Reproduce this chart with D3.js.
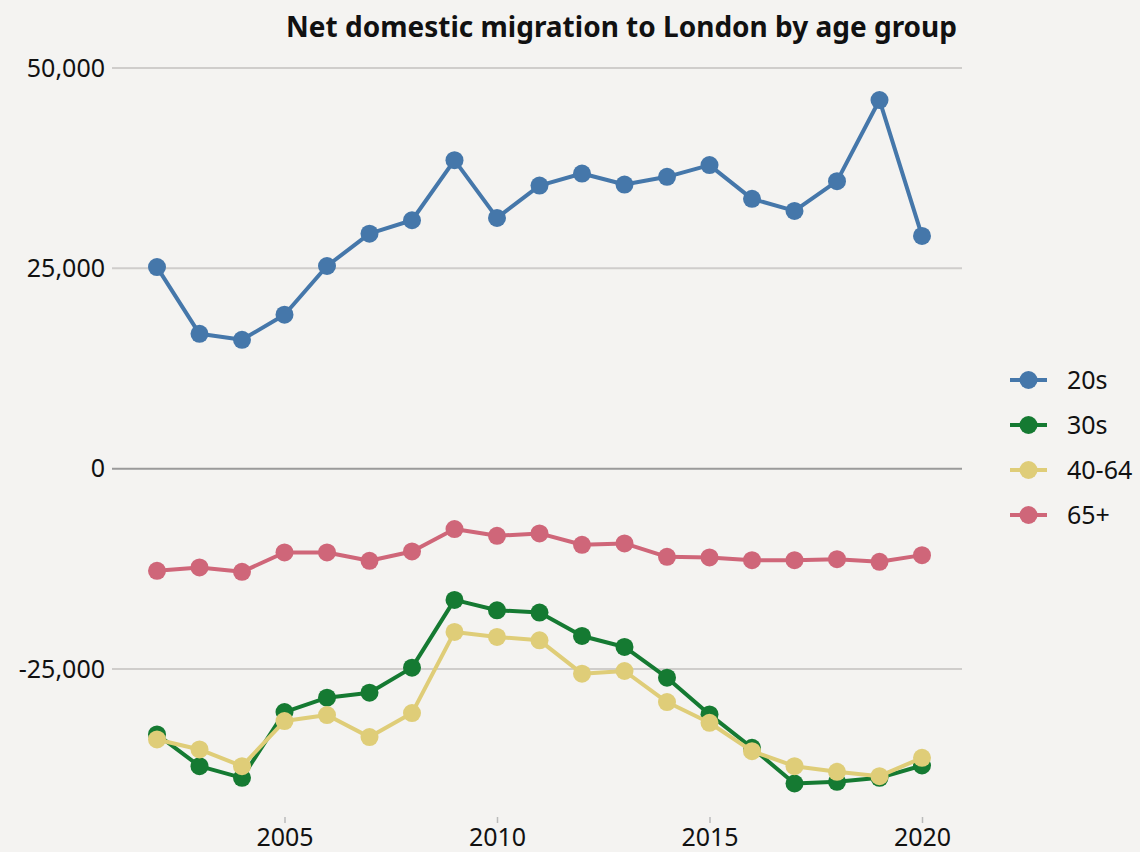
<!DOCTYPE html>
<html>
<head>
<meta charset="utf-8">
<script src="https://cdn.jsdelivr.net/npm/d3@7"></script>
<style>
  html, body { margin: 0; padding: 0; background: #f4f3f1; }
  svg { display: block; }
</style>
</head>
<body>
<svg id="chart" width="1140" height="852"></svg>
<script>
const years = d3.range(2002, 2021);
const seriesNames = ["20s", "30s", "40-64", "65+"];
const seriesColors = ["#4577aa", "#157a32", "#dfcd78", "#cf6679"];
const values20s = [25160, 16830, 16080, 19210, 25290, 29330, 31000, 38500, 31290, 35330, 36830, 35460, 36420, 37880, 33670, 32170, 35880, 46000, 29040];
const values30s = [-33170, -37125, -38580, -30375, -28580, -27960, -24830, -16375, -17670, -17960, -20875, -22250, -26080, -30670, -34830, -39290, -39080, -38580, -37040];
const values40_64 = [-33790, -35040, -37125, -31500, -30750, -33500, -30500, -20375, -21000, -21420, -25580, -25250, -29125, -31710, -35250, -37125, -37830, -38375, -36080];
const values65 = [-12750, -12330, -12875, -10460, -10460, -11500, -10330, -7540, -8375, -8080, -9500, -9330, -11000, -11080, -11420, -11420, -11290, -11625, -10790];
const yTicks = [50000, 25000, 0, -25000];
const xTicks = [2005, 2010, 2015, 2020];
const title = "Net domestic migration to London by age group";

const seriesValues = [values20s, values30s, values40_64, values65];

const svg = d3.select("#chart");
svg.append("rect").attr("width", 1140).attr("height", 852).attr("fill", "#f4f3f1");

const x = d3.scaleLinear().domain([2002, 2020]).range([157, 922]);
const y = d3.scaleLinear().domain([-25000, 50000]).range([669, 68]);

const fontTick = "'Noto Sans', 'Open Sans', sans-serif";
const fmt = d => d3.format(",")(d).replace("\u2212", "-");

// gridlines
const grid = svg.append("g");
grid.selectAll("line").data(yTicks).enter().append("line")
  .attr("x1", 112).attr("x2", 962)
  .attr("y1", d => y(d)).attr("y2", d => y(d))
  .attr("stroke", d => d === 0 ? "#9a9a9a" : "#cfcdcb")
  .attr("stroke-width", 2);

// y axis labels
const yAxis = svg.append("g").attr("transform", "translate(112,0)")
  .call(d3.axisLeft(y).tickValues(yTicks).tickSize(0).tickPadding(7).tickFormat(fmt));
yAxis.select(".domain").remove();
yAxis.selectAll("text")
  .attr("font-family", fontTick).attr("font-size", 25).attr("fill", "#111");

// x axis
const xAxis = svg.append("g").attr("transform", "translate(0,817)")
  .call(d3.axisBottom(x).tickValues(xTicks).tickSize(6).tickPadding(5).tickFormat(d3.format("d")));
xAxis.select(".domain").remove();
xAxis.selectAll("line").attr("stroke", "#bbb").attr("stroke-width", 1.5);
xAxis.selectAll("text")
  .attr("font-family", fontTick).attr("font-size", 25).attr("fill", "#111");

// lines and points
const line = d3.line().x((d, i) => x(years[i])).y(d => y(d));
seriesValues.forEach((vals, si) => {
  const g = svg.append("g");
  g.append("path").datum(vals)
    .attr("d", line)
    .attr("fill", "none")
    .attr("stroke", seriesColors[si])
    .attr("stroke-width", 4)
    .attr("stroke-linejoin", "round");
  g.selectAll("circle").data(vals).enter().append("circle")
    .attr("cx", (d, i) => x(years[i]))
    .attr("cy", d => y(d))
    .attr("r", 9)
    .attr("fill", seriesColors[si]);
});

// legend
const legend = svg.append("g").attr("transform", "translate(1010,380)");
seriesNames.forEach((name, i) => {
  const g = legend.append("g").attr("transform", `translate(0,${i * 45})`);
  g.append("line").attr("x1", 0).attr("x2", 37).attr("y1", 0).attr("y2", 0)
    .attr("stroke", seriesColors[i]).attr("stroke-width", 4);
  g.append("circle").attr("cx", 18.5).attr("cy", 0).attr("r", 9).attr("fill", seriesColors[i]);
  g.append("text").attr("x", 57).attr("y", 0).attr("dy", "0.35em")
    .attr("font-family", fontTick).attr("font-size", 25).attr("fill", "#111")
    .text(name);
});

// title
svg.append("text")
  .attr("x", 957).attr("y", 37)
  .attr("text-anchor", "end")
  .attr("font-family", "'Noto Sans', 'Open Sans', sans-serif")
  .attr("font-weight", "bold")
  .attr("font-size", 28)
  .attr("fill", "#111")
  .text(title);
</script>
</body>
</html>
